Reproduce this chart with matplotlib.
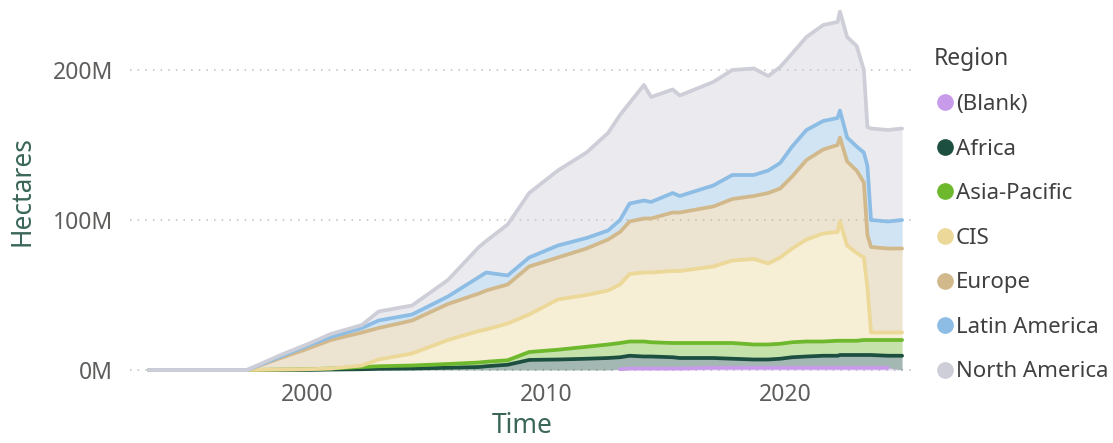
import matplotlib.pyplot as plt
from matplotlib.lines import Line2D
from matplotlib.ticker import FuncFormatter
import numpy as np

# time axis (decimal years) and hectares in millions per region
years = [1993.4, 1997.5, 1998.9, 2000.0, 2001.0, 2002.3, 2003.0, 2004.4, 2005.9, 2007.2,
         2007.5, 2008.4, 2009.3, 2010.5, 2011.7, 2012.6, 2013.1, 2013.5, 2014.1, 2014.4,
         2015.3, 2015.6, 2017.0, 2017.8, 2018.7, 2019.3, 2019.8, 2020.3, 2020.9, 2021.6,
         2022.2, 2022.3, 2022.6, 2023.0, 2023.3, 2023.45, 2023.6, 2024.3, 2024.9]

blank = [None] * 16 + [0.5, 1, 1, 1, 1, 1, 1.5, 1.5, 1.5, 1.5, 1.5, 1.5, 1.5, 1.5,
                       1.5, 1.5, 1.5, 1.5, 1.5, 1.5, 1.5, 1.5, None]
africa = [0, 0, 0, 0, 0.3, 0.5, 0.8, 1, 1.5, 2, 2.5, 3.5, 6.7, 7, 7.5, 8, 8, 8.5, 8, 8,
          7.5, 7, 6.5, 6, 5.5, 5.5, 6, 7, 7.5, 8, 8, 8.5, 8.5, 8.5, 8.5, 8.5, 8.5, 8, 9.5]
asia_pacific = [0, 0, 0.3, 0.5, 0.7, 1.5, 1.7, 2, 2.5, 3, 3, 3, 5.3, 6.5, 8, 9, 9.5, 9.5,
                10, 9.5, 9.5, 10, 10, 10.5, 10, 10, 10, 10, 10, 9.5, 10, 9.5, 9.5, 9.5, 10,
                10, 10, 10.5, 10.5]
cis = [0, 0, 0, 0, 0, 1, 4.5, 8, 16, 21, 21.5, 24.5, 25, 33.5, 34.5, 36, 39, 45, 46, 46.5,
       48, 48, 51, 55, 57, 54, 57.5, 62.5, 68, 72, 72.5, 79.5, 63.5, 58.5, 55, 35, 5, 5, 5]
europe = [0, 0, 7.7, 13.5, 19, 22, 21, 22, 24, 25, 26, 26, 32, 28, 31, 34, 35, 35, 36, 36,
          39, 39, 40, 41, 42, 47, 46, 48, 53, 56, 58, 56, 56, 55, 50, 35, 57, 56, 56]
latin_america = [0, 0, 1, 2, 2, 3, 5, 4, 5, 11, 12, 6, 6, 8, 7, 6, 8, 12, 12, 11, 13, 11,
                 14, 16, 14, 15, 17, 20, 20, 19, 18, 18, 16, 16, 20, 46, 18, 18, 19]
north_america = [0, 0, 1, 1, 2, 2, 6, 6, 11, 20, 21, 34, 43, 50, 57, 65, 70, 67, 77, 70,
                 69, 67, 69, 70, 71, 63, 64, 62, 62, 64, 64, 66, 67, 67, 55, 26, 61, 61, 61]

regions = ["(Blank)", "Africa", "Asia-Pacific", "CIS", "Europe", "Latin America", "North America"]
colors = ["#C79BEA", "#1D4F41", "#6DB82C", "#ECD898", "#D2B98C", "#8DBDE5", "#CDCED7"]

t = np.array(years)
series = [blank, africa, asia_pacific, cis, europe, latin_america, north_america]
series = [np.array([np.nan if v is None else v for v in s], dtype=float) for s in series]

fig = plt.figure(figsize=(11.13, 4.43), dpi=100)
ax = fig.add_axes([130 / 1113, (443 - 371.5) / 443, 785 / 1113, 361.5 / 443])

font = "Noto Sans"
tick_col = "#605E5C"

lower = np.zeros(len(t))
for s, c in zip(series, colors):
    upper = lower + np.nan_to_num(s)
    ax.fill_between(t, lower, upper, color=c, alpha=0.4, linewidth=0, zorder=2)
    line = np.where(np.isnan(s), np.nan, upper)
    ax.plot(t, line, color=c, lw=2.7, solid_joinstyle="round", solid_capstyle="round", zorder=3)
    lower = upper

ax.set_xlim(1992.6, 2025.44)
ax.set_ylim(-1, 240)
ax.set_yticks([0, 100, 200])
ax.set_xticks([2000, 2010, 2020])
ax.yaxis.set_major_formatter(FuncFormatter(lambda v, p: "{:.0f}M".format(v)))
ax.grid(axis="y", linestyle=(0, (1, 4)), color="#BDBDBD", lw=1.1, zorder=0)
ax.set_axisbelow(True)
for sp in ax.spines.values():
    sp.set_visible(False)
ax.tick_params(length=0, labelsize=16.5, labelcolor=tick_col)
ax.tick_params(axis="y", pad=12)
ax.tick_params(axis="x", pad=8)
for lab in ax.get_xticklabels() + ax.get_yticklabels():
    lab.set_fontfamily(font)

ax.set_xlabel("Time", fontsize=19, color="#3A6659", family=font, labelpad=4)
ax.set_ylabel("Hectares", fontsize=19, color="#3A6659", family=font, labelpad=12)

handles = [Line2D([], [], marker="o", linestyle="none", markersize=11,
                  markerfacecolor=c, markeredgecolor=c) for c in colors]
leg = fig.legend(handles, regions, loc="upper left", bbox_to_anchor=(918 / 1113, 1 - 31 / 443),
                 frameon=False, title="Region", alignment="left",
                 prop={"family": font, "size": 16}, labelspacing=1.06,
                 handletextpad=0.0, handlelength=1.0, borderpad=0.2)
leg.get_title().set_fontfamily(font)
leg.get_title().set_fontsize(16.5)
leg.get_title().set_fontweight("bold")
leg.get_title().set_color("#404040")
for txt in leg.get_texts():
    txt.set_color("#404040")

fig.savefig("out.png", dpi=100)
